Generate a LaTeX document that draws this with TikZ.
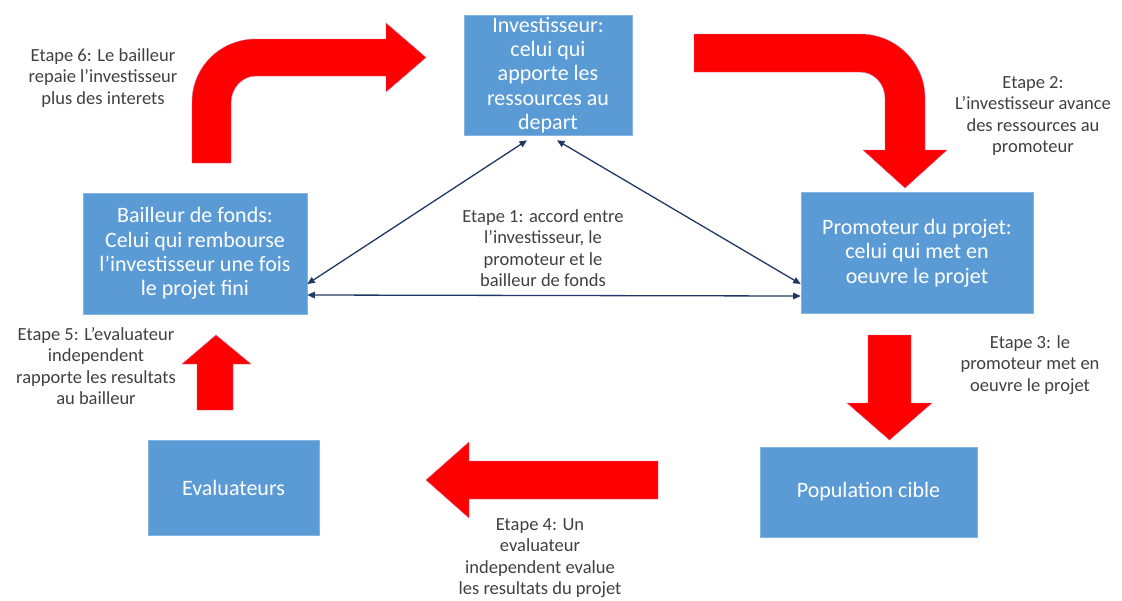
\documentclass[tikz,border=0pt]{standalone}
\usepackage{fontspec}
\setmainfont{Carlito}
\usetikzlibrary{arrows.meta}
\definecolor{boxblue}{HTML}{5B9BD5}
\definecolor{linkblue}{HTML}{203864}
\definecolor{notegray}{HTML}{404040}

\begin{document}
\begin{tikzpicture}[x=1pt,y=-1pt,
  actor/.style={rectangle,fill=boxblue,draw=boxblue!75!white,line width=0.6pt,align=center,text=white,font=\fontsize{22}{24.3}\selectfont,inner sep=0pt},
  note/.style={align=center,text=notegray,font=\fontsize{18.5}{21.5}\selectfont,inner sep=0pt},
  bigarrow/.style={fill=red,draw=red!70!blue!60!white,line width=0.4pt},
  link/.style={draw=linkblue,line width=1.3pt,{Triangle[length=7.5pt,width=6.5pt]}-{Triangle[length=7.5pt,width=6.5pt]}}]

  \useasboundingbox (0,0) rectangle (1122,600);

  \node[actor,minimum width=168pt,minimum height=120pt] (inv) at (548,75)
    {Investisseur:\\celui qui\\apporte les\\ressources au\\depart};
  \node[actor,minimum width=224pt,minimum height=121pt] (bail) at (195,253.5)
    {Bailleur de fonds:\\Celui qui rembourse\\l’investisseur une fois\\le projet fini};
  \node[actor,minimum width=232pt,minimum height=121pt] (prom) at (917,253)
    {Promoteur du projet:\\celui qui met en\\oeuvre le projet};
  \node[actor,minimum width=171pt,minimum height=95pt] (eval) at (233.5,487.5) {Evaluateurs};
  \node[actor,minimum width=217pt,minimum height=90pt] (pop) at (868.5,492) {Population cible};

  \node[note] (e1) at (543,248) {Etape 1: accord entre\\l’investisseur, le\\promoteur et le\\bailleur de fonds};
  \node[note] (e2) at (1033,116) {Etape 2:\\L’investisseur avance\\des ressources au\\promoteur};
  \node[note] (e3) at (1030,365) {Etape 3: le\\promoteur met en\\oeuvre le projet};
  \node[note] (e4) at (540,558) {Etape 4: Un\\evaluateur\\independent evalue\\les resultats du projet};
  \node[note] (e5) at (96,366) {Etape 5: L’evaluateur\\independent\\rapporte les resultats\\au bailleur};
  \node[note] (e6) at (103,78) {Etape 6: Le bailleur\\repaie l’investisseur\\plus des interets};

  \draw[link] ([yshift=-30.5pt]bail.east) -- ([xshift=-21pt,yshift=-5pt]inv.south);
  \draw[link] ([xshift=9pt,yshift=-5pt]inv.south) -- ([yshift=-31pt]prom.west);
  \draw[link] ([yshift=-41.5pt]bail.east) -- ([yshift=-43pt]prom.west);

  \filldraw[bigarrow] (192,163) -- (192,102.5) .. controls (192,66.9) and (220.4,39) .. (256,39)
    -- (386,39) -- (386,23) -- (426,57.5) -- (386,92) -- (386,76) -- (256,76)
    .. controls (241.9,76) and (231,88.4) .. (231,102.5) -- (231,163) -- cycle;
  \filldraw[bigarrow] (694,34) -- (860,34) .. controls (895.9,34) and (925,62.7) .. (925,98)
    -- (925,150) -- (947,150) -- (905,188) -- (863,150) -- (885,150) -- (885,98)
    .. controls (885,83.6) and (873.8,72) .. (860,72) -- (694,72) -- cycle;
  \filldraw[bigarrow] (868,335) -- (911,335) -- (911,403) -- (932,403) -- (889.5,440)
    -- (847,403) -- (868,403) -- cycle;
  \filldraw[bigarrow] (658,461) -- (658,499) -- (469,499) -- (469,518) -- (426,480)
    -- (469,442) -- (469,461) -- cycle;
  \filldraw[bigarrow] (197,410) -- (197,364) -- (182,364) -- (216,335) -- (251,364)
    -- (233,364) -- (233,410) -- cycle;
\end{tikzpicture}
\end{document}
